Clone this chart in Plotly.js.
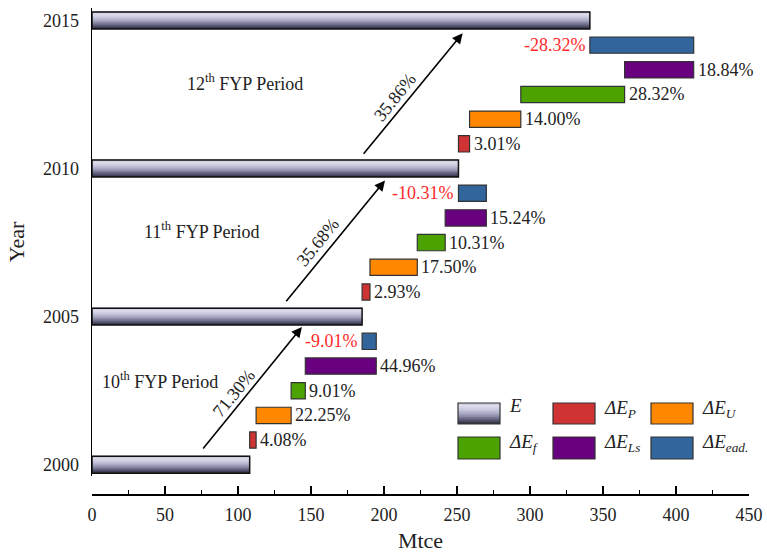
<!DOCTYPE html>
<html><head><meta charset="utf-8">
<script src="https://cdn.plot.ly/plotly-3.0.1.min.js"></script>
<style>html,body{margin:0;padding:0;background:#fff}#chart{width:767px;height:553px}</style>
</head><body><div id="chart"></div>
<script>
// ---- data ----
const years = [2000, 2005, 2010, 2015];
const energy = [108, 185, 251, 341];            // E, Mtce
const periods = ['10<sup>th</sup> FYP Period', '11<sup>th</sup> FYP Period', '12<sup>th</sup> FYP Period'];
const growthLabels = ['71.30%', '35.68%', '35.86%'];
const dP   = [4.4, 5.4, 7.6];                    // ΔE_P
const dU   = [24.0, 32.4, 35.1];                 // ΔE_U
const dF   = [9.7, 19.1, 71.1];                  // ΔE_f
const dLs  = [48.6, 28.2, 47.3];                 // ΔE_Ls
const dEad = [-9.7, -19.1, -71.1];               // ΔE_ead.
const pP   = ['4.08%', '2.93%', '3.01%'];
const pU   = ['22.25%', '17.50%', '14.00%'];
const pF   = ['9.01%', '10.31%', '28.32%'];
const pLs  = ['44.96%', '15.24%', '18.84%'];
const pEad = ['-9.01%', '-10.31%', '-28.32%'];
const xTicks = [0, 50, 100, 150, 200, 250, 300, 350, 400, 450];

// ---- styling ----
const FONT = 'Liberation Serif';
const comps = [
  {vals: dP,   labels: pP,   color: '#d03333', name: '<i>ΔE<sub>P</sub></i>'},
  {vals: dU,   labels: pU,   color: '#ff8800', name: '<i>ΔE<sub>U</sub></i>'},
  {vals: dF,   labels: pF,   color: '#4ca300', name: '<i>ΔE<sub>f</sub></i>'},
  {vals: dLs,  labels: pLs,  color: '#680080', name: '<i>ΔE<sub>Ls</sub></i>'},
  {vals: dEad, labels: pEad, color: '#31659c', name: '<i>ΔE<sub>ead.</sub></i>'}
];
const step = 5 / 6;
const eW = 0.57, dW = 0.55;

// gradient for E bars (bottom -> top)
const stops = [[0, [40,40,56]], [0.2, [92,92,120]], [0.45, [160,160,188]], [0.7, [204,204,224]], [0.88, [222,222,238]], [1, [188,188,210]]];
function grad(t) {
  for (let i = 1; i < stops.length; i++) {
    if (t <= stops[i][0]) {
      const a = stops[i-1], b = stops[i];
      const f = (t - a[0]) / (b[0] - a[0]);
      const c = a[1].map((v, j) => Math.round(v + f * (b[1][j] - v)));
      return 'rgb(' + c.join(',') + ')';
    }
  }
  return 'rgb(188,188,210)';
}

const traces = [];
const N = 16;
for (let j = 0; j < N; j++) {
  traces.push({
    type: 'bar', orientation: 'h', x: energy, y: years,
    width: eW / N + 0.03, offset: -eW / 2 + j * eW / N,
    marker: {color: grad((j + 0.5) / N), line: {width: 0}},
    hoverinfo: 'skip', showlegend: false
  });
}
traces.push({
  type: 'bar', orientation: 'h', x: energy, y: years, width: eW, offset: -eW / 2,
  marker: {color: 'rgba(0,0,0,0)', line: {color: '#111', width: 1.5}},
  showlegend: false
});

const annotations = [];
// waterfall decomposition bars
for (let i = 0; i < 3; i++) {
  let cum = energy[i];
  comps.forEach((c, k) => {
    const v = c.vals[i];
    const yv = years[i] + (k + 1) * step;
    traces.push({
      type: 'bar', orientation: 'h', x: [v], y: [yv], base: [cum], width: dW,
      marker: {color: c.color, line: {color: '#333', width: 1.2}}, showlegend: false
    });
    if (v >= 0) {
      annotations.push({x: cum + v, y: yv, xref: 'x', yref: 'y', text: c.labels[i], showarrow: false,
        xanchor: 'left', xshift: 2, font: {family: FONT, size: 18, color: '#222'}});
    } else {
      annotations.push({x: cum + v, y: yv, xref: 'x', yref: 'y', text: c.labels[i], showarrow: false,
        xanchor: 'right', xshift: -2, font: {family: FONT, size: 18, color: '#ff2a2a'}});
    }
    cum += v;
  });
}

// arrows, growth labels and period labels
const arrowTail = [[75.3, 2000.5], [132.2, 2005.47], [185.2, 2010.45]];
const arrowTip = [[143.8, 2004.65], [200.7, 2009.6], [253.9, 2014.57]];
const growthPos = [[97.3, 2002.42], [154.8, 2007.52], [207.5, 2012.42]];
const periodPos = [[46.6, 2002.86], [75.1, 2007.9], [104.8, 2012.9]];
for (let i = 0; i < 3; i++) {
  annotations.push({x: arrowTip[i][0], y: arrowTip[i][1], ax: arrowTail[i][0], ay: arrowTail[i][1],
    xref: 'x', yref: 'y', axref: 'x', ayref: 'y', showarrow: true, arrowhead: 2, arrowsize: 1.3,
    arrowwidth: 1.6, arrowcolor: '#000', text: ''});
  annotations.push({x: growthPos[i][0], y: growthPos[i][1], xref: 'x', yref: 'y', text: growthLabels[i],
    showarrow: false, textangle: -51, font: {family: FONT, size: 18, color: '#222'}});
  annotations.push({x: periodPos[i][0], y: periodPos[i][1], xref: 'x', yref: 'y', text: periods[i],
    showarrow: false, font: {family: FONT, size: 18, color: '#222'}});
}

// custom legend
const px = v => (v - 92) / 657, py = v => (494 - v) / 486;
const shapes = [];
const cols = [458, 553, 651], rows = [[403, 424], [437, 459]];
const legendItems = [{name: '<i>E</i>', grad: true}].concat(comps);
legendItems.forEach((it, idx) => {
  const c = idx % 3, r = Math.floor(idx / 3);
  const x0 = cols[c], x1 = cols[c] + 42, y0 = rows[r][0], y1 = rows[r][1];
  if (it.grad) {
    const M = 12;
    for (let j = 0; j < M; j++) {
      const b = y1 - j * (y1 - y0) / M, t = y1 - (j + 1.4) * (y1 - y0) / M;
      shapes.push({type: 'rect', xref: 'paper', yref: 'paper', x0: px(x0), x1: px(x1), y0: py(b), y1: py(Math.max(t, y0)),
        fillcolor: grad((j + 0.5) / M), line: {width: 0}, layer: 'above'});
    }
    shapes.push({type: 'rect', xref: 'paper', yref: 'paper', x0: px(x0), x1: px(x1), y0: py(y1), y1: py(y0),
      fillcolor: 'rgba(0,0,0,0)', line: {color: '#333', width: 1.2}, layer: 'above'});
  } else {
    shapes.push({type: 'rect', xref: 'paper', yref: 'paper', x0: px(x0), x1: px(x1), y0: py(y1), y1: py(y0),
      fillcolor: it.color, line: {color: '#333', width: 1.2}, layer: 'above'});
  }
  annotations.push({x: px(x1 + 7), y: py((y0 + y1) / 2), xref: 'paper', yref: 'paper', text: it.name,
    showarrow: false, xanchor: 'left', yshift: it.grad ? -4 : -9, font: {family: FONT, size: 19, color: '#222'}});
});

const layout = {
  width: 767, height: 553,
  margin: {l: 92, r: 18, t: 8, b: 59},
  paper_bgcolor: '#fff', plot_bgcolor: '#fff',
  barmode: 'overlay', showlegend: false,
  font: {family: FONT, size: 18, color: '#222'},
  xaxis: {
    range: [0, 450], tickvals: xTicks, ticktext: xTicks.map(String),
    anchor: 'free', position: 0,
    showline: true, linecolor: '#000', linewidth: 1.5, showgrid: false, zeroline: false,
    ticks: 'inside', ticklen: 8, tickwidth: 1.5, tickcolor: '#000', ticklabelstandoff: 4,
    minor: {tickvals: [25, 75, 125, 175, 225, 275, 325, 375, 425], ticks: 'inside', ticklen: 4, tickwidth: 1.5, tickcolor: '#000', showgrid: false},
    tickfont: {family: FONT, size: 18, color: '#222'},
    title: {text: 'Mtce', font: {family: FONT, size: 22, color: '#222'}, standoff: 8}
  },
  yaxis: {
    range: [1999.62, 2015.42], domain: [0.037, 1],
    tickvals: years, ticktext: years.map(String),
    showline: true, linecolor: '#000', linewidth: 1.5, showgrid: false, zeroline: false,
    ticks: 'outside', ticklen: 8, tickcolor: 'rgba(0,0,0,0)',
    tickfont: {family: FONT, size: 18, color: '#222'},
    title: {text: 'Year', font: {family: FONT, size: 22, color: '#222'}, standoff: 12}
  },
  shapes: shapes,
  annotations: annotations
};

Plotly.newPlot('chart', traces, layout, {staticPlot: true, displayModeBar: false});
</script>
</body></html>
